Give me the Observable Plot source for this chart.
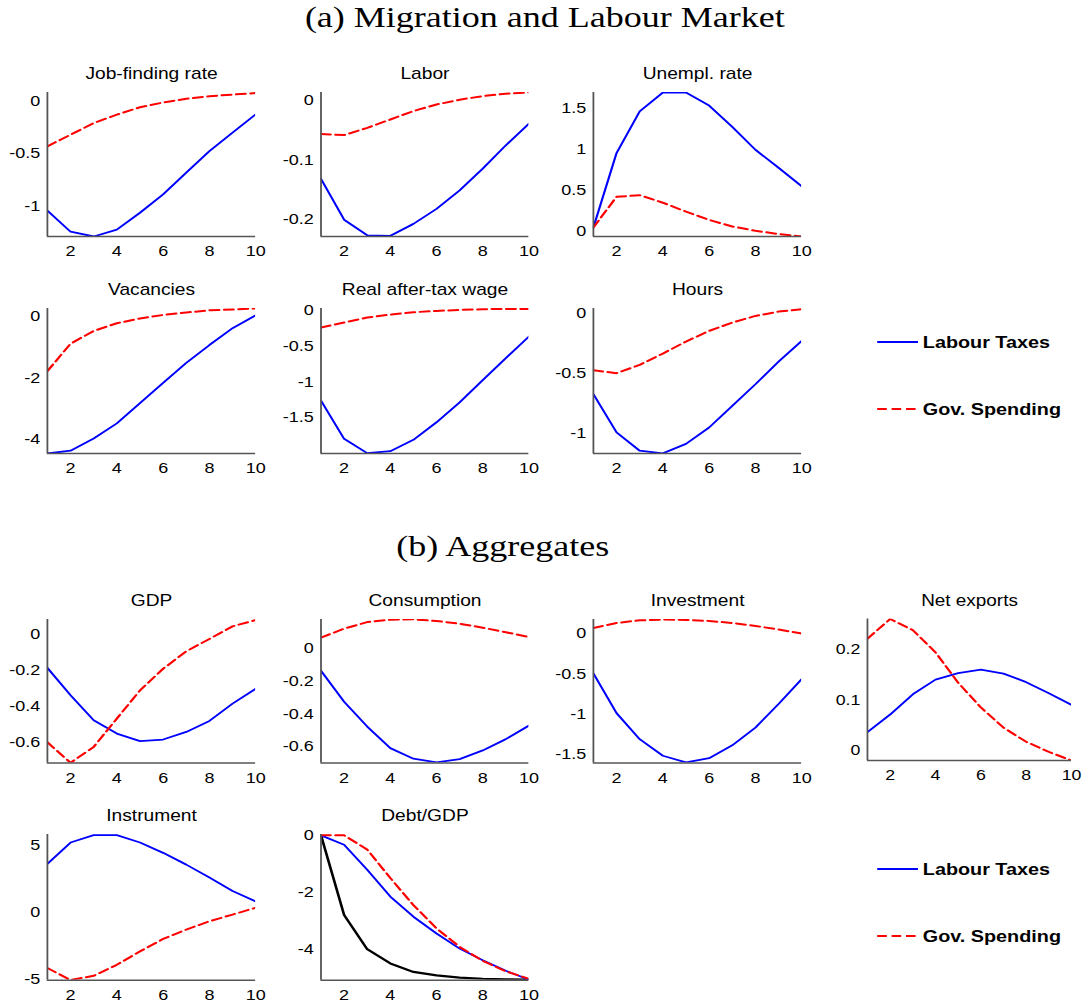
<!DOCTYPE html>
<html>
<head>
<meta charset="utf-8">
<script src="https://cdn.jsdelivr.net/npm/d3@7"></script>
<script src="https://cdn.jsdelivr.net/npm/@observablehq/plot@0.6"></script>
<style>
  body { margin: 0; background: #fff; }
  #wrap { position: relative; width: 908px; height: 1004px; transform: scaleX(1.2); transform-origin: 0 0;
          font-family: "Liberation Sans", Arial, sans-serif; }
  .panel { position: absolute; }
  .section { position: absolute; font-family: "Liberation Serif", serif; font-size: 30px; white-space: nowrap;
             transform: translate(-50%, -50%); color: #000; }
  .legend { position: absolute; left: 0; top: 0; overflow: visible; }
</style>
</head>
<body>
<div id="wrap"></div>
<script>
// ---------------- data ----------------
const periods = [1, 2, 3, 4, 5, 6, 7, 8, 9, 10];
const xTicks = [2, 4, 6, 8, 10];
const seriesNames = ["Labour Taxes", "Gov. Spending"];

const jobFindingLT = [-1.04, -1.24, -1.285, -1.22, -1.06, -0.885, -0.68, -0.475, -0.30, -0.127];
const jobFindingGS = [-0.43, -0.32, -0.21, -0.13, -0.06, -0.015, 0.02, 0.045, 0.06, 0.075];
const laborLT = [-0.132, -0.200, -0.226, -0.227, -0.207, -0.182, -0.151, -0.115, -0.076, -0.040];
const laborGS = [-0.057, -0.059, -0.047, -0.033, -0.019, -0.008, 0.000, 0.006, 0.010, 0.012];
const unemplLT = [0.04, 0.95, 1.46, 1.69, 1.69, 1.53, 1.27, 0.99, 0.77, 0.544];
const unemplGS = [0.04, 0.415, 0.435, 0.343, 0.234, 0.133, 0.052, 0.0, -0.04, -0.07];
const vacLT = [-4.46, -4.37, -3.97, -3.48, -2.82, -2.16, -1.51, -0.93, -0.38, 0.04];
const vacGS = [-1.78, -0.885, -0.47, -0.22, -0.066, 0.05, 0.13, 0.20, 0.23, 0.26];
const wageLT = [-1.264, -1.796, -1.995, -1.968, -1.81, -1.565, -1.287, -0.977, -0.671, -0.37];
const wageGS = [-0.245, -0.176, -0.106, -0.065, -0.032, -0.014, 0.0, 0.01, 0.014, 0.014];
const hoursLT = [-0.675, -0.994, -1.147, -1.169, -1.09, -0.953, -0.772, -0.592, -0.403, -0.23];
const hoursGS = [-0.475, -0.50, -0.43, -0.336, -0.236, -0.147, -0.078, -0.022, 0.014, 0.033];

const gdpLT = [-0.188, -0.34, -0.478, -0.552, -0.594, -0.585, -0.543, -0.482, -0.386, -0.304];
const gdpGS = [-0.60, -0.714, -0.626, -0.469, -0.313, -0.193, -0.096, -0.028, 0.042, 0.077];
const consLT = [-0.136, -0.325, -0.477, -0.609, -0.674, -0.696, -0.676, -0.623, -0.554, -0.471];
const consGS = [0.067, 0.122, 0.162, 0.177, 0.179, 0.169, 0.152, 0.128, 0.10, 0.071];
const invLT = [-0.496, -0.99, -1.314, -1.52, -1.603, -1.55, -1.39, -1.17, -0.876, -0.566];
const invGS = [0.07, 0.132, 0.165, 0.174, 0.17, 0.157, 0.132, 0.095, 0.05, 0.0];
const nxLT = [0.036, 0.071, 0.111, 0.14, 0.153, 0.16, 0.152, 0.135, 0.113, 0.09];
const nxGS = [0.221, 0.26, 0.238, 0.194, 0.134, 0.085, 0.045, 0.017, -0.003, -0.02];
const instrLT = [3.6, 5.2, 5.75, 5.75, 5.2, 4.43, 3.55, 2.58, 1.58, 0.8];
const instrGS = [-4.17, -5.07, -4.75, -3.93, -2.93, -2.0, -1.3, -0.68, -0.18, 0.33];
const debtLT = [0, -0.33, -1.21, -2.15, -2.86, -3.45, -3.98, -4.39, -4.76, -5.07];
const debtGS = [0, 0, -0.5, -1.5, -2.45, -3.27, -3.92, -4.41, -4.78, -5.04];
const debtBlack = [0, -2.8, -4.0, -4.5, -4.8, -4.92, -5.0, -5.04, -5.06, -5.07];

// y ticks per panel
const ticksJob = [-1, -0.5, 0];
const ticksLabor = [-0.2, -0.1, 0];
const ticksUnempl = [0, 0.5, 1, 1.5];
const ticksVac = [-4, -2, 0];
const ticksWage = [-1.5, -1, -0.5, 0];
const ticksHours = [-1, -0.5, 0];
const ticksGdp = [-0.6, -0.4, -0.2, 0];
const ticksCons = [-0.6, -0.4, -0.2, 0];
const ticksInv = [-1.5, -1, -0.5, 0];
const ticksNx = [0, 0.1, 0.2];
const ticksInstr = [-5, 0, 5];
const ticksDebt = [-4, -2, 0];

// ---------------- layout (unstretched coordinates) ----------------
const wrap = document.getElementById("wrap");
const cols = [[38.9, 212.5], [266.7, 440], [494.4, 668], [722.75, 895.25]];
const rowsY = [[92, 236], [307.5, 452.5], [619.2, 762.7], [834.3, 980]];

function panel({title, lt, gs, black, domain, yticks, col, row}) {
  const ml = 44, mr = 16, mt = 34, mb = 22;
  const [L, R] = cols[col], [T, B] = rowsY[row];
  const W = R - L, H = B - T;
  const toRows = arr => periods.map((p, i) => ({p, v: arr[i]}));
  const marks = [
    Plot.axisX({ticks: xTicks, tickSize: 0, tickPadding: 9, label: null, tickFormat: d => String(d)}),
    Plot.axisY({ticks: yticks, tickSize: 0, tickPadding: 6, label: null, tickFormat: d => String(d)}),
  ];
  if (black) marks.push(Plot.line(toRows(black), {x: "p", y: "v", stroke: "#000", strokeWidth: 2.2, clip: true}));
  marks.push(Plot.line(toRows(lt), {x: "p", y: "v", stroke: "#0000ff", strokeWidth: 1.8, clip: true}));
  marks.push(Plot.line(toRows(gs), {x: "p", y: "v", stroke: "#ff0000", strokeWidth: 2, strokeDasharray: "8,4", clip: true}));
  marks.push(Plot.ruleX([periods[0]], {stroke: "#555", strokeWidth: 1.5}));
  marks.push(Plot.ruleY([domain[0]], {stroke: "#555", strokeWidth: 1.5}));
  marks.push(Plot.text([title], {frameAnchor: "top", lineAnchor: "bottom", dy: -13, fontSize: 16, fill: "#000"}));
  const chart = Plot.plot({
    width: ml + W + mr, height: mt + H + mb,
    marginLeft: ml, marginRight: mr, marginTop: mt, marginBottom: mb,
    x: {domain: [1, 10], label: null},
    y: {domain, label: null},
    style: {fontFamily: "'Liberation Sans', Arial, sans-serif", fontSize: "15px", color: "#000", background: "transparent", overflow: "visible"},
    marks
  });
  const div = document.createElement("div");
  div.className = "panel";
  div.style.left = (L - ml) + "px";
  div.style.top = (T - mt) + "px";
  div.appendChild(chart);
  wrap.appendChild(div);
}

function section(text, cx, cy) {
  const d = document.createElement("div");
  d.className = "section";
  d.textContent = text;
  d.style.left = cx + "px";
  d.style.top = cy + "px";
  wrap.appendChild(d);
}

section("(a) Migration and Labour Market", 454, 17);
section("(b) Aggregates", 419, 546);

panel({title: "Job-finding rate", lt: jobFindingLT, gs: jobFindingGS, domain: [-1.285, 0.08], yticks: ticksJob, col: 0, row: 0});
panel({title: "Labor", lt: laborLT, gs: laborGS, domain: [-0.228, 0.012], yticks: ticksLabor, col: 1, row: 0});
panel({title: "Unempl. rate", lt: unemplLT, gs: unemplGS, domain: [-0.07, 1.69], yticks: ticksUnempl, col: 2, row: 0});
panel({title: "Vacancies", lt: vacLT, gs: vacGS, domain: [-4.46, 0.26], yticks: ticksVac, col: 0, row: 1});
panel({title: "Real after-tax wage", lt: wageLT, gs: wageGS, domain: [-2.0, 0.02], yticks: ticksWage, col: 1, row: 1});
panel({title: "Hours", lt: hoursLT, gs: hoursGS, domain: [-1.17, 0.04], yticks: ticksHours, col: 2, row: 1});

panel({title: "GDP", lt: gdpLT, gs: gdpGS, domain: [-0.715, 0.08], yticks: ticksGdp, col: 0, row: 2});
panel({title: "Consumption", lt: consLT, gs: consGS, domain: [-0.70, 0.178], yticks: ticksCons, col: 1, row: 2});
panel({title: "Investment", lt: invLT, gs: invGS, domain: [-1.61, 0.175], yticks: ticksInv, col: 2, row: 2});
panel({title: "Net exports", lt: nxLT, gs: nxGS, domain: [-0.02, 0.26], yticks: ticksNx, col: 3, row: 2});
panel({title: "Instrument", lt: instrLT, gs: instrGS, domain: [-5.08, 5.8], yticks: ticksInstr, col: 0, row: 3});
panel({title: "Debt/GDP", lt: debtLT, gs: debtGS, black: debtBlack, domain: [-5.09, 0.03], yticks: ticksDebt, col: 1, row: 3});

// legends
function legend(y1, y2) {
  const svg = d3.create("svg").attr("class", "legend").attr("width", 908).attr("height", 1004)
    .style("position", "absolute").style("left", "0px").style("top", "0px").style("pointer-events", "none");
  const entries = [
    {name: seriesNames[0], y: y1, stroke: "#0000ff", dash: null, w: 1.8},
    {name: seriesNames[1], y: y2, stroke: "#ff0000", dash: "8,4", w: 2}
  ];
  for (const e of entries) {
    svg.append("line").attr("x1", 731).attr("x2", 765).attr("y1", e.y).attr("y2", e.y)
      .attr("stroke", e.stroke).attr("stroke-width", e.w).attr("stroke-dasharray", e.dash);
    svg.append("text").attr("x", 769).attr("y", e.y).attr("dy", "0.35em")
      .attr("font-family", "'Liberation Sans', Arial, sans-serif").attr("font-weight", "bold")
      .attr("font-size", 16.5).text(e.name);
  }
  wrap.appendChild(svg.node());
}
legend(342, 409);
legend(869, 936);
</script>
</body>
</html>
